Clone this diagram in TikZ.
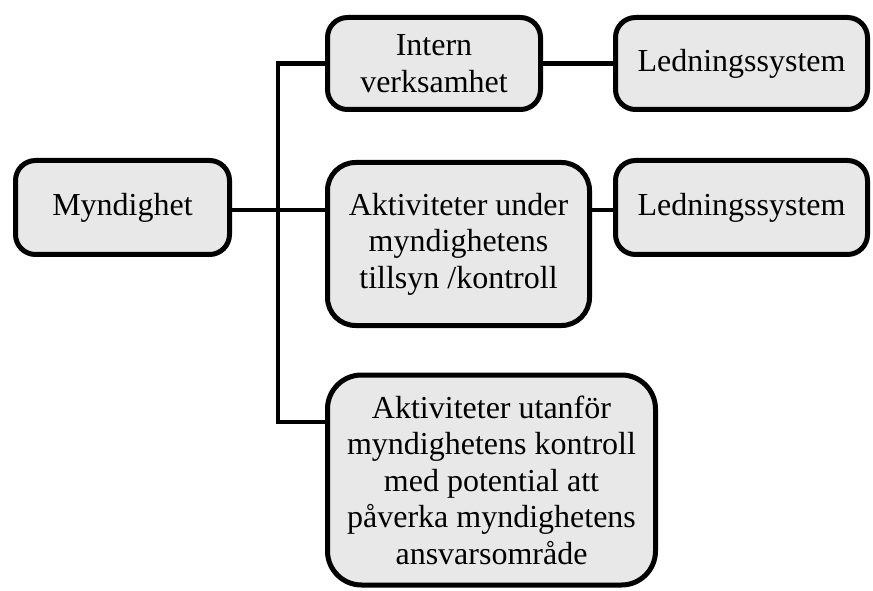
\documentclass[tikz,border=0pt]{standalone}
\usepackage{fontspec}
\setmainfont{Liberation Serif}
\begin{document}
\begin{tikzpicture}[x=1pt,y=1pt,
  box/.style={draw=black, line width=5pt, fill=black!9, rounded corners=20pt,
    align=center, inner sep=0pt,
    font=\fontsize{32}{36.5}\selectfont},
  link/.style={draw=black, line width=4.5pt, line join=miter}]
\useasboundingbox (0,0) rectangle (873,590);

% organisation boxes
\node[box, minimum width=214pt, minimum height=94pt] (mynd) at (122.5,382.5) {Myndighet};
\node[box, minimum width=213pt, minimum height=92pt] (intern) at (434,526.5) {Intern\\verksamhet};
\node[box, minimum width=252pt, minimum height=92pt] (led1) at (741.5,526.5) {Ledningssystem};
\node[box, minimum width=262pt, minimum height=163pt, rounded corners=28pt] (aktiv) at (458.5,346) {Aktiviteter under\\myndighetens\\tillsyn /kontroll};
\node[box, minimum width=252pt, minimum height=94pt] (led2) at (741.5,382.5) {Ledningssystem};
\node[box, minimum width=328pt, minimum height=210pt, rounded corners=34pt] (utan) at (491.5,110) {Aktiviteter utanför\\myndighetens kontroll\\med potential att\\påverka myndighetens\\ansvarsområde};

% trunk line
\coordinate (ttop) at (278,526.5);
\coordinate (tbot) at (278,168);

% connectors
\draw[link] (mynd.east |- 0,380) -- (aktiv.west |- 0,380);
\draw[link] (intern.west) -- (ttop) -- (tbot) -- (utan.west |- tbot);
\draw[link] (intern.east) -- (led1.west);
\draw[link] (aktiv.east |- 0,380) -- (led2.west |- 0,380);
\end{tikzpicture}
\end{document}
